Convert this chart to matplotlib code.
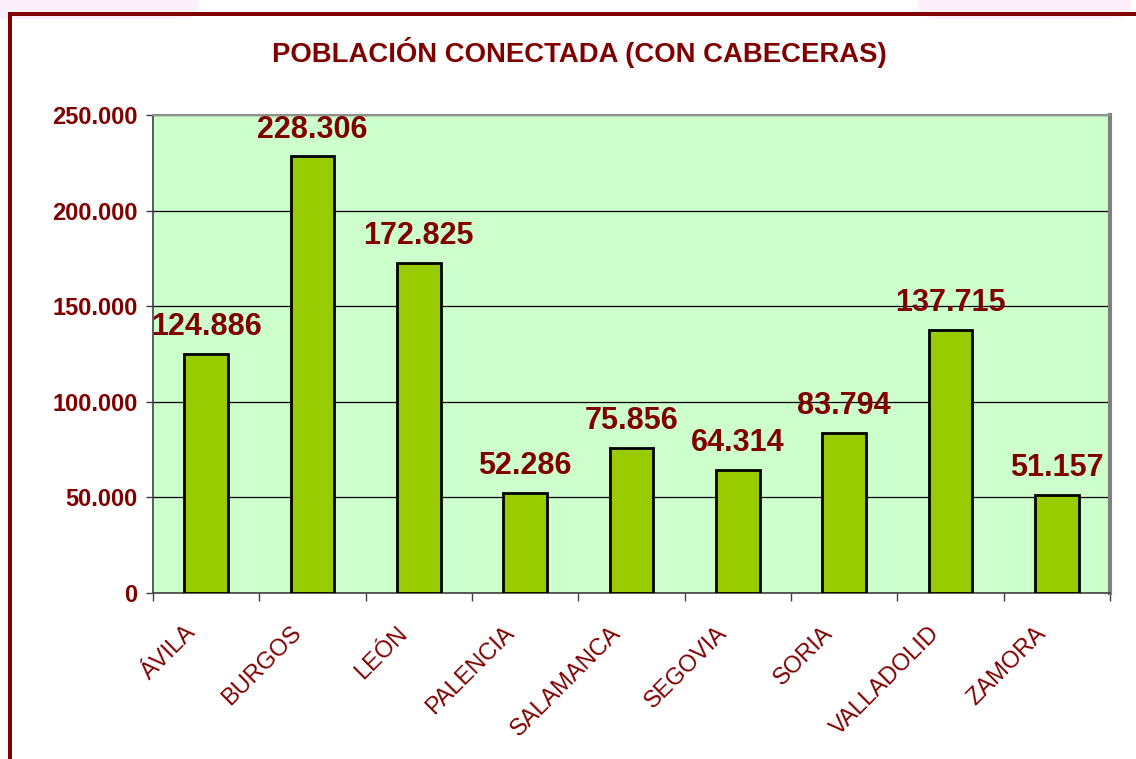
import matplotlib.pyplot as plt
import matplotlib.transforms as mtransforms
from matplotlib.patches import Rectangle, FancyBboxPatch

plt.rcParams['font.family'] = ['Liberation Sans', 'DejaVu Sans']

provincias = ['ÁVILA', 'BURGOS', 'LEÓN', 'PALENCIA', 'SALAMANCA',
              'SEGOVIA', 'SORIA', 'VALLADOLID', 'ZAMORA']
poblacion = [124886, 228306, 172825, 52286, 75856, 64314, 83794, 137715, 51157]
etiquetas = ['124.886', '228.306', '172.825', '52.286', '75.856',
             '64.314', '83.794', '137.715', '51.157']
y_ticks = [0, 50000, 100000, 150000, 200000, 250000]
y_labels = ['0', '50.000', '100.000', '150.000', '200.000', '250.000']

rojo = '#800000'
W, H = 1136, 759

fig = plt.figure(figsize=(W / 100, H / 100), dpi=100)
fig.patch.set_facecolor('white')

# fondo rosado arriba y marco rojo
fig.add_artist(FancyBboxPatch((-0.02, 0.975), 0.195, 0.05, boxstyle='round,pad=0,rounding_size=0.02',
                              transform=fig.transFigure, facecolor='#fdf0fb', edgecolor='none', zorder=0))
fig.add_artist(FancyBboxPatch((0.808, 0.975), 0.188, 0.05, boxstyle='round,pad=0,rounding_size=0.02',
                              transform=fig.transFigure, facecolor='#fdf0fb', edgecolor='none', zorder=0))
fig.add_artist(Rectangle((8 / W, 1 - 16 / H), 1, 4 / H, transform=fig.transFigure,
                         facecolor=rojo, edgecolor='none', zorder=1))
fig.add_artist(Rectangle((8 / W, 0), 4 / W, 1 - 12 / H, transform=fig.transFigure,
                         facecolor=rojo, edgecolor='none', zorder=1))

ax = fig.add_axes([153 / W, 1 - 593 / H, (1110 - 153) / W, (593 - 115) / H])
ax.set_facecolor('#ccffcc')

x = list(range(len(provincias)))
ax.bar(x, poblacion, width=0.41, color='#99cc00', edgecolor='black', linewidth=2, zorder=3)

for i in x:
    ax.annotate(etiquetas[i], (i, poblacion[i]), xytext=(0, 13.5), textcoords='offset points',
                ha='center', va='baseline', fontsize=22, fontweight='bold', color=rojo, zorder=4)

ax.set_xlim(-0.5, len(provincias) - 0.5)
ax.set_ylim(0, 250000)
ax.set_yticks(y_ticks)
ax.set_yticklabels(y_labels, fontsize=17, fontweight='bold', color=rojo)
ax.tick_params(axis='y', length=5, width=1, color='#404040', pad=6, direction='out')
ax.grid(axis='y', color='black', linewidth=0.9, zorder=1)
ax.set_axisbelow(True)

ax.set_xticks(x)
ax.set_xticklabels(provincias, rotation=45, ha='right', va='top', rotation_mode='anchor',
                   fontsize=17, color=rojo)
ax.set_xticks([i - 0.5 for i in range(len(provincias) + 1)], minor=True)
ax.tick_params(axis='x', which='major', length=0, pad=21)
ax.tick_params(axis='x', which='minor', length=6, width=1, color='#404040')
desplaza = mtransforms.ScaledTranslation(-22 / 100, 0, fig.dpi_scale_trans)
for lab in ax.get_xticklabels():
    lab.set_transform(lab.get_transform() + desplaza)

for lado in ['left', 'bottom']:
    ax.spines[lado].set_color('#404040')
    ax.spines[lado].set_linewidth(1.2)
ax.spines['top'].set_color('#909090')
ax.spines['top'].set_linewidth(1.5)
ax.spines['right'].set_color('#808080')
ax.spines['right'].set_linewidth(3)

fig.text(579 / W, 1 - 52 / H, 'POBLACIÓN CONECTADA (CON CABECERAS)', ha='center', va='center',
         fontsize=19.8, fontweight='bold', color=rojo)

fig.savefig('out.png', dpi=100)
